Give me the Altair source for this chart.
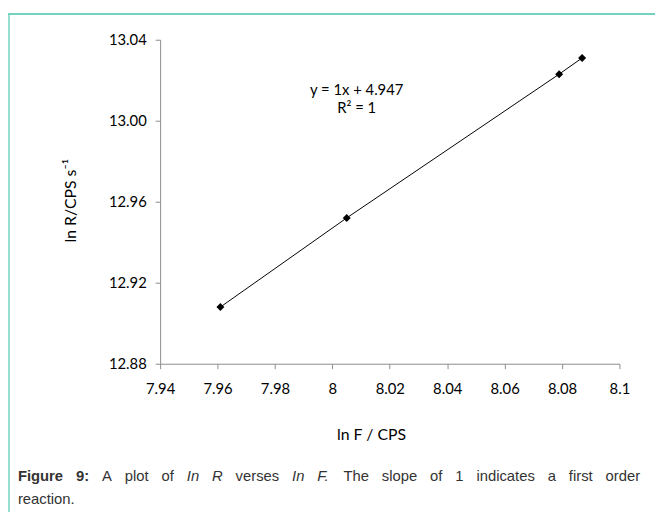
import altair as alt
import pandas as pd

# ---- data ----
x_vals = [7.961, 8.005, 8.079, 8.087]
y_vals = [12.908, 12.952, 13.023, 13.031]
x_ticks = [7.94, 7.96, 7.98, 8.0, 8.02, 8.04, 8.06, 8.08, 8.1]
y_ticks = [12.88, 12.92, 12.96, 13.00, 13.04]
eq_lines = ["y = 1x + 4.947", "R² = 1"]
x_title = "ln F / CPS"
y_title = "ln R/CPS s⁻¹"
caption_words = ["Figure", "9:", "A", "plot", "of", "In", "R", "verses", "In", "F.",
                 "The", "slope", "of", "1", "indicates", "a", "first", "order"]
caption_styles = ["b", "b", "n", "n", "n", "i", "i", "n", "i", "i",
                  "n", "n", "n", "n", "n", "n", "n", "n"]
caption_line2 = "reaction."

# ---- layout ----
W, H = 465, 328
PAD_L, PAD_T, PAD_R, PAD_B = 154, 29, 36, 150
OX, OY = 162, 37   # page coords of the plot origin
FONT = "Lato"
TEAL = "#74d3c0"
CAP_COLOR = "#333333"
CAP_FONT = "Liberation Sans"
CAP_SIZE = 15

# Arial / Liberation Sans advance widths (1/1000 em) for justified caption layout
AW = {" ": 278, "A": 667, "F": 611, "I": 278, "R": 722, "T": 611, "a": 556, "c": 500,
      "d": 556, "e": 556, "f": 278, "h": 556, "i": 222, "l": 222, "n": 556, "o": 556,
      "p": 556, "r": 333, "s": 500, "t": 278, "v": 500, "1": 556, "9": 556, ".": 278,
      ":": 278, "g": 556, "u": 556}
AWB = {"F": 611, "i": 278, "g": 611, "u": 611, "r": 389, "e": 556, "9": 556, ":": 333}


def wlen(word, style):
    tab = AWB if style == "b" else AW
    return sum(tab.get(ch, 556) for ch in word) * CAP_SIZE / 1000.0


left, right = 18, 648
widths = [wlen(w, s) for w, s in zip(caption_words, caption_styles)]
gap = (right - left - sum(widths)) / (len(caption_words) - 1)
xs = []
cur = left
for wd in widths:
    xs.append(cur - OX)
    cur += wd + gap
cap_df = pd.DataFrame({"w": caption_words, "s": caption_styles, "px": xs})

df = pd.DataFrame({"x": x_vals, "y": y_vals})

xs_scale = alt.Scale(domain=[x_ticks[0], x_ticks[-1]], nice=False, zero=False)
ys_scale = alt.Scale(domain=[y_ticks[0], y_ticks[-1]], nice=False, zero=False)

x_enc = alt.X("x:Q", scale=xs_scale,
              axis=alt.Axis(values=x_ticks, format="~g", title=None, labelPadding=13,
                            labelFlush=False, labelOverlap=False))
y_enc = alt.Y("y:Q", scale=ys_scale,
              axis=alt.Axis(values=y_ticks, format=".2f", title=None, labelPadding=9,
                            labelFlush=False, labelOverlap=False))

base = alt.Chart(df)
line = base.mark_line(color="black", strokeWidth=1).encode(x=x_enc, y=y_enc)
pts = base.mark_point(shape="diamond", filled=True, size=65, color="black", opacity=1).encode(x=x_enc, y=y_enc)


def text_layer(txt, px, py, size=15, font=FONT, angle=0, align="center", color="black",
               weight="normal", style="normal", baseline="middle"):
    return alt.Chart(pd.DataFrame({"t": [txt]})).mark_text(
        font=font, fontSize=size, angle=angle, align=align, baseline=baseline,
        color=color, fontWeight=weight, fontStyle=style
    ).encode(x=alt.value(px - OX), y=alt.value(py - OY), text="t:N")


eq1 = text_layer(eq_lines[0], 361, 88)
eq2 = text_layer(eq_lines[1], 361, 106)
xt = text_layer(x_title, 376, 437, size=16)
yt = text_layer(y_title, 72, 200, size=16, angle=270)

cap_layers = []
for st, wt, fs in [("b", "bold", "normal"), ("n", "normal", "normal"), ("i", "normal", "italic")]:
    cap_layers.append(
        alt.Chart(cap_df).transform_filter(alt.datum.s == st).mark_text(
            font=CAP_FONT, fontSize=CAP_SIZE, align="left", baseline="middle",
            color=CAP_COLOR, fontWeight=wt, fontStyle=fs
        ).encode(x=alt.X("px:Q", scale=None), y=alt.value(479 - OY), text="w:N")
    )
cap2 = text_layer(caption_line2, left, 502, size=CAP_SIZE, font=CAP_FONT,
                  align="left", color=CAP_COLOR)

border_top = alt.Chart(pd.DataFrame({"a": [0]})).mark_rule(color=TEAL, strokeWidth=2).encode(
    x=alt.value(8 - OX), x2=alt.value(663 - OX), y=alt.value(11 - OY))
border_left = alt.Chart(pd.DataFrame({"a": [0]})).mark_rule(color=TEAL, strokeWidth=1.5).encode(
    x=alt.value(9 - OX), y=alt.value(11 - OY), y2=alt.value(515 - OY))

chart = alt.layer(
    border_top, border_left, line, pts, eq1, eq2, xt, yt, *cap_layers, cap2
).properties(
    width=W, height=H,
    autosize="none",
    padding={"left": PAD_L, "top": PAD_T, "right": PAD_R, "bottom": PAD_B},
    background="white",
).configure_view(stroke=None).configure_axis(
    grid=False, domainColor="#8c8c8c", tickColor="#8c8c8c", tickSize=5,
    labelFont=FONT, labelFontSize=15, labelColor="black",
)

chart.save("out.html", embed_options={"renderer": "svg", "actions": False})
